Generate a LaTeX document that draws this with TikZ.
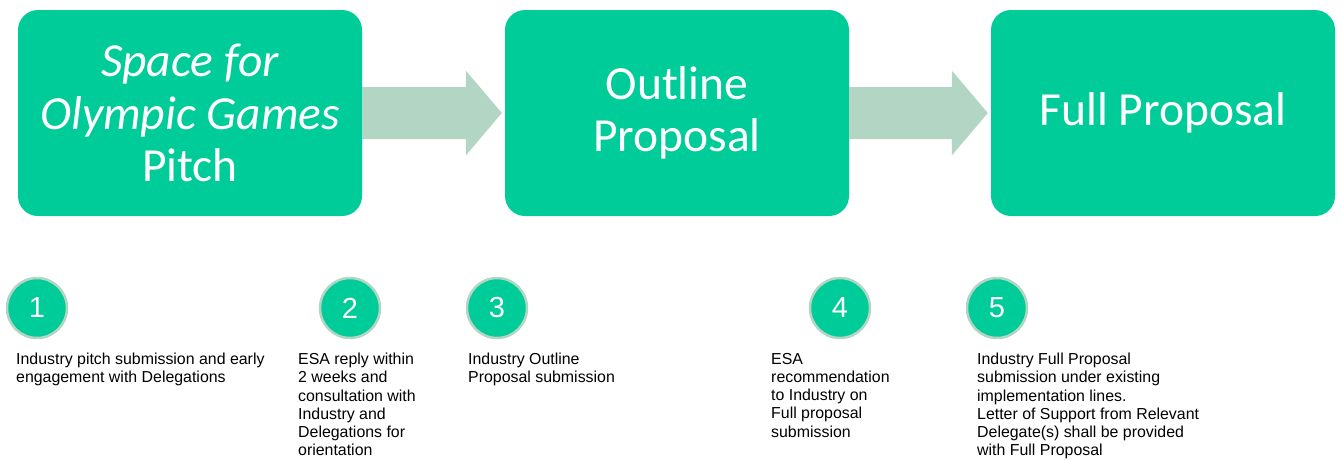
\documentclass[tikz,border=0pt]{standalone}
\usepackage{fontspec}
\setmainfont{Liberation Sans}
\newfontfamily\boxfont{Carlito}
\usetikzlibrary{calc}
\definecolor{boxgreen}{RGB}{0,204,153}
\definecolor{arrowgreen}{RGB}{179,214,196}
\tikzset{
  stagebox/.style={fill=boxgreen, rounded corners=20pt, minimum width=344pt, minimum height=206pt,
    text=white, align=center, font=\boxfont\fontsize{47.5}{52.5}\selectfont, inner sep=0pt},
  numdisc/.style={circle, fill=boxgreen, draw=arrowgreen, line width=2.5pt, minimum size=60pt,
    inner sep=0pt, text=white, font=\fontsize{29}{30}\selectfont},
  desc/.style={anchor=north west, align=left, inner sep=0pt, text=black,
    font=\fontsize{15.9}{18.2}\selectfont},
  flowarrow/.style={fill=arrowgreen}
}
\begin{document}
\begin{tikzpicture}[x=1pt,y=-1pt]
\useasboundingbox (0,0) rectangle (1342,459);
\node[stagebox] (b1) at (190,113) {\itshape Space for\\\itshape Olympic Games\\Pitch};
\node[stagebox] (b2) at (677,113) {Outline\\Proposal};
\node[stagebox] (b3) at (1163,113) {Full Proposal};
\foreach \a/\b in {b1/b2,b2/b3}{
  \fill[flowarrow] ($(\a.east)+(0,-26)$) -- ($(\b.west)+(-39,-26)$) -- ($(\b.west)+(-39,-42.5)$)
    -- ($(\b.west)+(-3,0)$) -- ($(\b.west)+(-39,42.5)$) -- ($(\b.west)+(-39,26)$)
    -- ($(\a.east)+(0,26)$) -- cycle;
}
\node[numdisc] (n1) at (37,308) {1};
\node[numdisc] (n2) at (350,308) {2};
\node[numdisc] (n3) at (497,308) {3};
\node[numdisc] (n4) at (840,308) {4};
\node[numdisc] (n5) at (997,308) {5};
\node[desc] (t1) at (16,353) {Industry pitch submission and early\\engagement with Delegations};
\node[desc] (t2) at (298,353) {ESA reply within\\2 weeks and\\consultation with\\Industry and\\Delegations for\\orientation};
\node[desc] (t3) at (468,353) {Industry Outline\\Proposal submission};
\node[desc] (t4) at (771,353) {ESA\\recommendation\\to Industry on\\Full proposal\\submission};
\node[desc] (t5) at (977,353) {Industry Full Proposal\\submission under existing\\implementation lines.\\Letter of Support from Relevant\\Delegate(s) shall be provided\\with Full Proposal};
\end{tikzpicture}
\end{document}
